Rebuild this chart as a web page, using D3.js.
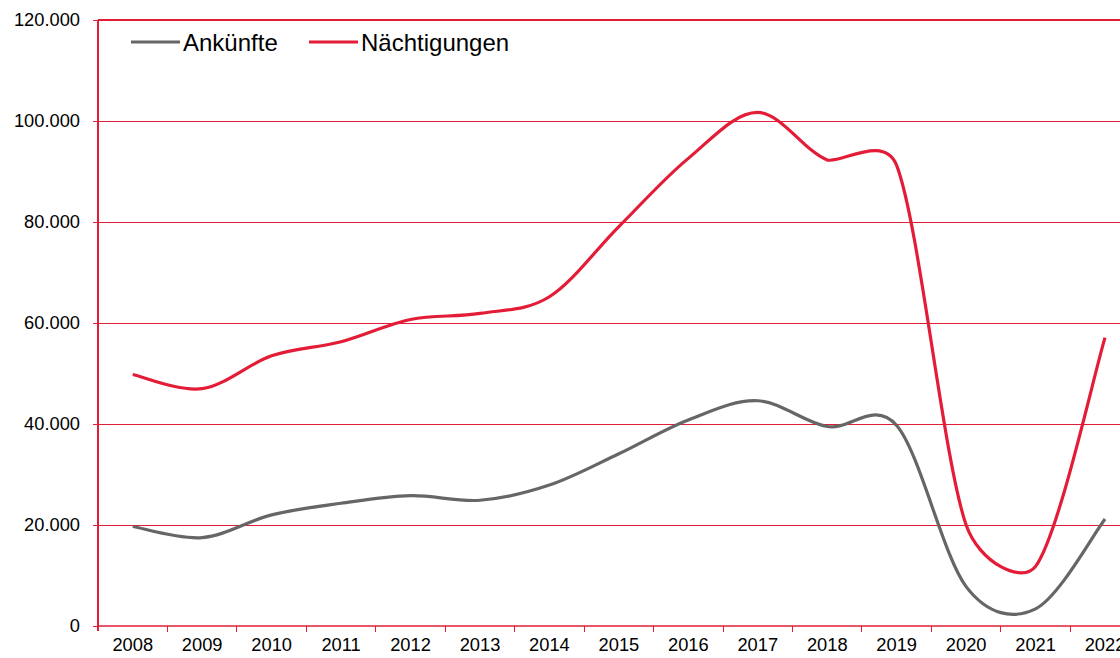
<!DOCTYPE html>
<html>
<head>
<meta charset="utf-8">
<script src="https://cdn.jsdelivr.net/npm/d3@7"></script>
<style>
  html, body { margin: 0; padding: 0; background: #fff; }
  svg { display: block; font-family: "Liberation Sans", Arial, sans-serif; }
</style>
</head>
<body>
<svg width="1120" height="658"></svg>
<script>
// Chart data
const years = ["2008", "2009", "2010", "2011", "2012", "2013", "2014", "2015",
               "2016", "2017", "2018", "2019", "2020", "2021", "2022"];
const ankuenfte = [19700, 17500, 22000, 24300, 25800, 24900, 27900, 34100,
                   40800, 44600, 39500, 39700, 7800, 3400, 21200];
const naechtigungen = [49800, 47000, 53500, 56300, 60700, 61900, 65200, 79100,
                       92600, 101700, 92300, 91200, 20000, 11800, 57100];
const yTicks = [0, 20000, 40000, 60000, 80000, 100000, 120000];

const series = [
  { name: "Ankünfte", values: ankuenfte, color: "#666666" },
  { name: "Nächtigungen", values: naechtigungen, color: "#e31d37" }
];

const width = 1120, height = 658;
const plotLeft = 98, plotTop = 20, plotBottom = 626;
const step = 69.45;
const red = "#e31d37";

const svg = d3.select("svg");

const x = d3.scaleBand().domain(years).range([plotLeft, plotLeft + step * years.length]);
const y = d3.scaleLinear().domain([0, 120000]).range([plotBottom, plotTop]);

const de = d3.formatLocale({ decimal: ",", thousands: ".", grouping: [3], currency: ["", " €"] });
const fmt = de.format(",d");

// Spreadsheet-style smoothing: bezier handles at 1/6 of the neighbour span,
// shortened when they would exceed half the segment length
function SmoothCurve(context) { this._context = context; }
SmoothCurve.prototype = {
  areaStart() {}, areaEnd() {},
  lineStart() { this._pts = []; },
  point(px, py) { this._pts.push([+px, +py]); },
  lineEnd() {
    const p = this._pts, c = this._context, n = p.length;
    if (!n) return;
    const dist = (a, b) => Math.hypot(b[0] - a[0], b[1] - a[1]);
    c.moveTo(p[0][0], p[0][1]);
    for (let i = 0; i < n - 1; i++) {
      const p0 = p[Math.max(i - 1, 0)], p1 = p[i], p2 = p[i + 1], p3 = p[Math.min(i + 2, n - 1)];
      const d12 = dist(p1, p2), m = Math.max(dist(p0, p2), dist(p1, p3));
      let f = 1 / 6;
      if (m / 6 >= d12 / 2) f = d12 / (2 * m);
      c.bezierCurveTo(
        p1[0] + f * (p2[0] - p0[0]), p1[1] + f * (p2[1] - p0[1]),
        p2[0] - f * (p3[0] - p1[0]), p2[1] - f * (p3[1] - p1[1]),
        p2[0], p2[1]);
    }
  }
};
const smooth = context => new SmoothCurve(context);

// Gridlines
svg.append("g")
  .style("shape-rendering", "crispEdges")
  .selectAll("line")
  .data(yTicks.filter(d => d > 0))
  .join("line")
  .attr("x1", plotLeft).attr("x2", width)
  .attr("y1", d => y(d)).attr("y2", d => y(d))
  .attr("stroke", red)
  .attr("stroke-width", d => d === 120000 ? 2 : 1);

// Y axis
const yAxis = svg.append("g")
  .attr("transform", `translate(${plotLeft},0)`)
  .call(d3.axisLeft(y).tickValues(yTicks).tickFormat(fmt).tickSize(5).tickPadding(13));
yAxis.select(".domain").attr("stroke", red).attr("stroke-width", 2)
  .style("shape-rendering", "crispEdges")
  .attr("d", `M0,${plotTop}V${plotBottom + 5}`);
yAxis.selectAll(".tick line").attr("stroke", red).style("shape-rendering", "crispEdges");
yAxis.selectAll(".tick text")
  .attr("fill", "#000").style("font-size", "18.3px").style("font-family", "Liberation Sans, Arial, sans-serif");

// X axis (ticks between categories)
const xAxis = svg.append("g")
  .attr("transform", `translate(0,${plotBottom})`)
  .call(d3.axisBottom(x).tickSize(0).tickPadding(12));
xAxis.select(".domain").attr("stroke", red).attr("stroke-width", 1.5)
  .attr("d", `M${plotLeft},0H${width}`);
xAxis.selectAll(".tick text")
  .attr("fill", "#000").style("font-size", "18.3px").style("font-family", "Liberation Sans, Arial, sans-serif");
svg.append("g")
  .style("shape-rendering", "crispEdges")
  .selectAll("line")
  .data(years.slice(1))
  .join("line")
  .attr("x1", d => x(d)).attr("x2", d => x(d))
  .attr("y1", plotBottom).attr("y2", plotBottom + 6)
  .attr("stroke", red).attr("stroke-width", 1);

// Lines
const line = d3.line()
  .x((d, i) => x(years[i]) + x.bandwidth() / 2)
  .y(d => y(d))
  .curve(smooth);

svg.append("g")
  .selectAll("path")
  .data(series)
  .join("path")
  .attr("d", d => line(d.values))
  .attr("fill", "none")
  .attr("stroke", d => d.color)
  .attr("stroke-width", 3.2)
  .attr("stroke-linejoin", "round");

// Legend
const legendX = [131, 309];
const legend = svg.append("g")
  .selectAll("g")
  .data(series)
  .join("g")
  .attr("transform", (d, i) => `translate(${legendX[i]},42)`);
legend.append("line")
  .attr("x1", 0).attr("x2", 49)
  .attr("stroke", d => d.color).attr("stroke-width", 3.2);
legend.append("text")
  .attr("x", 52).attr("y", 8.5)
  .style("font-size", "24px")
  .attr("fill", "#000")
  .text(d => d.name);
</script>
</body>
</html>
